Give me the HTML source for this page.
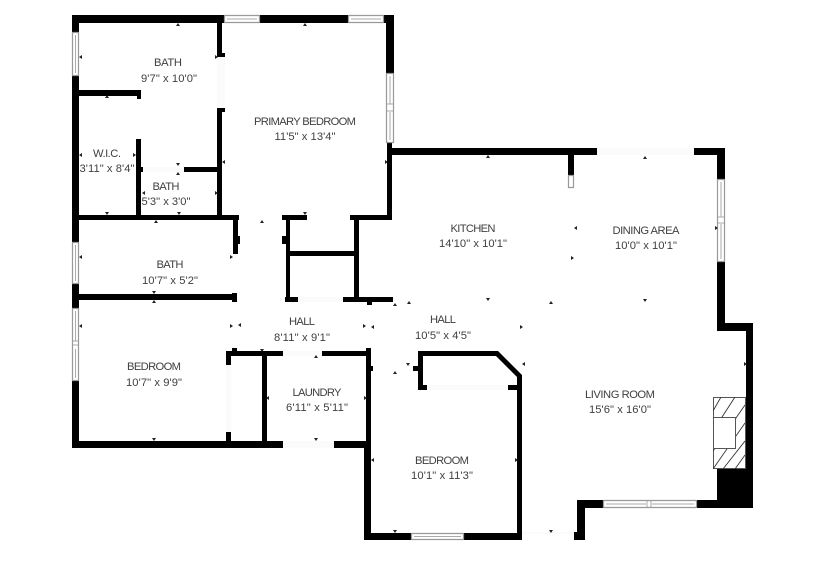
<!DOCTYPE html>
<html>
<head>
<meta charset="utf-8">
<style>
html,body{margin:0;padding:0;background:#fff}
svg{display:block}
text{font-family:"Liberation Sans",sans-serif;font-size:11.2px;fill:#404040;text-anchor:middle}
.w{fill:#fff;stroke:#999;stroke-width:1.2}
.l{stroke:#aaa;stroke-width:1;fill:none}
</style>
</head>
<body>
<svg width="825" height="581" viewBox="0 0 825 581" xmlns="http://www.w3.org/2000/svg">
<rect width="825" height="581" fill="#fff"/>
<defs><clipPath id="fp"><path d="M713 397H745V469H713ZM713 417V448H735V417Z" clip-rule="evenodd"/></clipPath></defs>

<path fill="#fbfbfb" d="M217 57h8v51h-8zM143 167h41v5h-41zM298 297h45v5h-45zM283 351h39v5h-39zM283 441h51v7h-51zM226 365h5v67h-5zM427 385h81v5h-81zM522 532h52v2h-52zM597 148h97v7h-97z"/>

<path fill="#000" d="M72 15h152v8h-152zM260 15h88v8h-88zM384 15h10v8h-10zM386 15h8v58h-8zM387 143h5v77h-5zM350 215h42v5h-42zM72 15h7v17h-7zM72 76h7v166h-7zM72 283h7v25h-7zM72 381h7v67h-7zM79 90h62v6h-62zM137 90h4v9h-4zM217 15h5v38h-5zM217 53h8v4h-8zM217 108h8v4h-8zM217 108h5v112h-5zM136 139h5v76h-5zM141 167h2v5h-2zM184 167h34v5h-34zM79 215h160v5h-160zM233 215h5v39h-5zM237 236h3v8h-3zM79 294h158v6h-158zM232 293h5v9h-5zM282 215h25v5h-25zM286 215h4v87h-4zM282 236h4v8h-4zM290 251h66v5h-66zM354 215h5v86h-5zM285 297h13v5h-13zM343 297h50v5h-50zM367 302h5v3h-5zM226 351h57v5h-57zM322 351h49v5h-49zM232 348h5v3h-5zM226 351h5v14h-5zM226 432h5v10h-5zM72 441h211v7h-211zM334 441h32v7h-32zM262 356h5v85h-5zM366 348h5v100h-5zM371 366h2v5h-2zM364 443h7v97h-7zM364 533h47v7h-47zM464 533h58v7h-58zM517 375h5v165h-5zM418 351H498L522 375V384H517V377L496 356H423V385H427V390H418ZM508 385h10v5h-10zM413 366h5v5h-5zM387 148h210v7h-210zM694 148h31v7h-31zM717 148h8v31h-8zM717 262h8v69h-8zM717 323h36v8h-36zM746 323h7v185h-7zM717 469h36v39h-36zM577 500h26v8h-26zM697 500h20v8h-20zM577 500h8v40h-8zM574 532h4v8h-4zM568 155h6v20h-6z"/>

<path class="w" d="M224.500 15.500h35v7h-35zM348.500 15.500h35v7h-35zM386.500 73.500h7v69h-7zM72.500 32.500h6v43h-6zM72.500 242.500h6v41h-6zM72.500 308.500h6v72h-6zM411.500 533.500h52v6h-52zM717.500 179.500h7v82h-7zM603.500 500.500h93v7h-93zM568.500 175.500h5v12h-5z"/>
<path class="l" d="M227 19H257M351 19H381M390 76V104M390 112V140M387 104H393M387 111H393M75.500 35V73M75.500 245V281M75.500 311V341M75.500 349V378M73 341H78M73 345H78M414 536.500H461M721 182V217M721 224V259M718 217H724M718 223H724M606 504H646M652 504H694M647 501V507M651 501V507"/>

<rect x="713.500" y="397.500" width="32" height="71" fill="#fff" stroke="#555"/>
<path clip-path="url(#fp)" stroke="#333" stroke-width="0.9" d="M713 411L721 397M713 431L735 397M713 451L745 405M713 469L745 423M723 469L745 441M735 469L745 455"/>
<rect x="713.500" y="417.500" width="22" height="31" fill="#fff" stroke="#555"/>

<path fill="#222" d="M176 26h4l-2-3zM303 26h4l-2-3zM105 98h4l-2-3zM176 175h4l-2-3zM154 223h4l-2-3zM260 223h4l-2-3zM152 303h4l-2-3zM314 358h4l-2-3zM393 306h4l-2-3zM393 374h4l-2-3zM407 304h4l-2-3zM549 304h4l-2-3zM643 159h4l-2-3zM486 158h4l-2-3zM176 163h4l-2 3zM105 212h4l-2 3zM177 212h4l-2 3zM303 212h4l-2 3zM152 291h4l-2 3zM260 349h4l-2 3zM152 438h4l-2 3zM314 438h4l-2 3zM406 363h4l-2 3zM486 298h4l-2 3zM393 530h4l-2 3zM549 530h4l-2 3zM643 299h4l-2 3zM82 55v4l-3-2zM82 153v4l-3-2zM145 191v4l-3-2zM225 160v4l-3-2zM82 255v4l-3-2zM82 324v4l-3-2zM241 323v4l-3-2zM374 325v4l-3-2zM269 396v4l-3-2zM374 458v4l-3-2zM525 362v4l-3-2zM577 226v4l-3-2zM215 55v4l3-2zM133 153v4l3-2zM215 191v4l3-2zM385 160v4l3-2zM230 255v4l3-2zM230 324v4l3-2zM363 324v4l3-2zM364 396v4l3-2zM520 325v4l3-2zM515 458v4l3-2zM571 256v4l3-2zM715 226v4l3-2zM744 362v4l3-2z"/>

<text x="168" y="66" textLength="28">BATH</text>
<text x="169" y="82" textLength="56">9'7" x 10'0"</text>
<text x="305" y="125" textLength="102">PRIMARY BEDROOM</text>
<text x="305" y="140" textLength="61">11'5" x 13'4"</text>
<text x="107" y="157" textLength="28">W.I.C.</text>
<text x="107" y="172" textLength="55">3'11" x 8'4"</text>
<text x="166" y="190" textLength="27">BATH</text>
<text x="166" y="205" textLength="49">5'3" x 3'0"</text>
<text x="170" y="268" textLength="27">BATH</text>
<text x="170" y="284" textLength="56">10'7" x 5'2"</text>
<text x="302" y="325" textLength="26">HALL</text>
<text x="302" y="341" textLength="56">8'11" x 9'1"</text>
<text x="154" y="370" textLength="54">BEDROOM</text>
<text x="154" y="386" textLength="56">10'7" x 9'9"</text>
<text x="317" y="396" textLength="49">LAUNDRY</text>
<text x="317" y="411" textLength="62">6'11" x 5'11"</text>
<text x="443" y="323" textLength="26">HALL</text>
<text x="443" y="339" textLength="56">10'5" x 4'5"</text>
<text x="442" y="464" textLength="54">BEDROOM</text>
<text x="442" y="479" textLength="62">10'1" x 11'3"</text>
<text x="620" y="398" textLength="70">LIVING ROOM</text>
<text x="620" y="413" textLength="62">15'6" x 16'0"</text>
<text x="646" y="234" textLength="67">DINING AREA</text>
<text x="646" y="249" textLength="62">10'0" x 10'1"</text>
<text x="473" y="232" textLength="45">KITCHEN</text>
<text x="473" y="247" textLength="68">14'10" x 10'1"</text>
</svg>
</body>
</html>
